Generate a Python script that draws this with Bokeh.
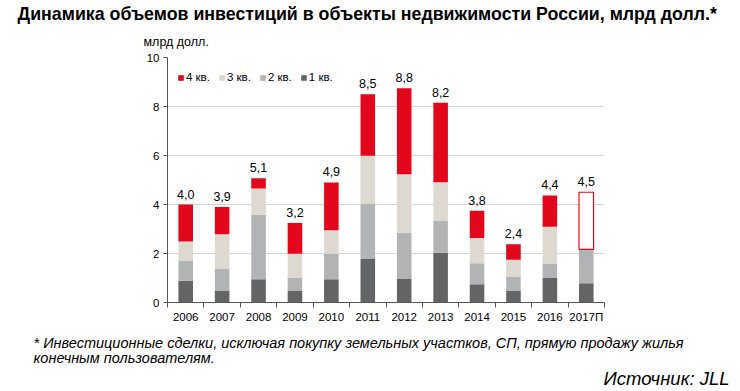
from bokeh.plotting import figure
from bokeh.models import (ColumnDataSource, Range1d, FixedTicker, Legend,
                          LegendItem, Title)
from bokeh.core.properties import value
from bokeh.embed import file_html
from bokeh.resources import INLINE

# ---- data ----
years = ["2006", "2007", "2008", "2009", "2010", "2011", "2012", "2013",
         "2014", "2015", "2016", "2017П"]
q1 = [0.89, 0.49, 0.95, 0.49, 0.95, 1.80, 0.98, 2.03, 0.75, 0.49, 1.02, 0.79]
q2 = [0.82, 0.88, 2.63, 0.53, 1.04, 2.22, 1.87, 1.30, 0.85, 0.57, 0.57, 1.38]
q3 = [0.78, 1.42, 1.07, 0.97, 0.96, 1.97, 2.38, 1.58, 1.03, 0.69, 1.50, 0.00]
q4 = [1.51, 1.11, 0.42, 1.25, 1.95, 2.51, 3.51, 3.24, 1.11, 0.63, 1.28, 0.00]
q4_forecast = [0, 0, 0, 0, 0, 0, 0, 0, 0, 0, 0, 2.33]
total_labels = ["4,0", "3,9", "5,1", "3,2", "4,9", "8,5", "8,8", "8,2",
                "3,8", "2,4", "4,4", "4,5"]
quarter_names = ["1 кв.", "2 кв.", "3 кв.", "4 кв."]
y_ticks = [0, 2, 4, 6, 8, 10]

colors = ["#636466", "#b2b3b5", "#ddd9d0", "#e2071a"]
FONT = "Liberation Sans"

n = len(years)
xs = [i + 0.5 for i in range(n)]
base = [a + b + c for a, b, c in zip(q1, q2, q3)]
tops = [b + d + f for b, d, f in zip(base, q4, q4_forecast)]

src = ColumnDataSource(dict(x=xs, q1=q1, q2=q2, q3=q3, q4=q4,
                            top=tops, lab=total_labels))
fidx = [i for i in range(n) if q4_forecast[i] > 0]
fsrc = ColumnDataSource(dict(x=[xs[i] for i in fidx],
                             bottom=[base[i] for i in fidx],
                             top=[base[i] + q4_forecast[i] for i in fidx]))

W, H = 740, 391
FL, FR, FT, FB = 167, 604, 57, 302  # frame edges in canvas px

p = figure(width=W, height=H, x_range=Range1d(0, n), y_range=Range1d(0, 10),
           output_backend="svg", toolbar_location=None,
           min_border_left=FL, min_border_right=W - FR,
           min_border_top=FT, min_border_bottom=H - FB)
p.outline_line_color = None
p.background_fill_color = "white"
p.border_fill_color = "white"

rs = p.vbar_stack(["q1", "q2", "q3", "q4"], x="x", width=0.4, color=colors,
                  line_color=None, source=src)
p.vbar(x="x", bottom="bottom", top="top", width=0.4, fill_color="white",
       line_color="#e2071a", line_width=1.2, source=fsrc)

p.text(x="x", y="top", text="lab", source=src, text_align="center",
       text_baseline="bottom", y_offset=-6, text_font=value(FONT),
       text_font_size="12.5px", text_color="#000000")

# axes
p.xaxis.ticker = FixedTicker(ticks=xs, minor_ticks=list(range(n + 1)))
p.xaxis.major_label_overrides = {x: y for x, y in zip(xs, years)}
p.xaxis.major_tick_out = 0
p.xaxis.major_tick_in = 0
p.xaxis.minor_tick_out = 5
p.xaxis.minor_tick_in = 0
p.xaxis.minor_tick_line_color = "#555555"
p.xaxis.axis_line_color = "#555555"
p.xaxis.major_label_standoff = 3
p.xaxis.major_label_text_font = FONT
p.xaxis.major_label_text_font_size = "11.5px"
p.xaxis.major_label_text_color = "#000000"

p.yaxis.ticker = FixedTicker(ticks=y_ticks, minor_ticks=[])
p.yaxis.major_tick_out = 4
p.yaxis.major_tick_in = 0
p.yaxis.major_tick_line_color = "#555555"
p.yaxis.axis_line_color = "#555555"
p.yaxis.major_label_standoff = 4
p.yaxis.major_label_text_font = FONT
p.yaxis.major_label_text_font_size = "11.5px"
p.yaxis.major_label_text_color = "#000000"

p.xgrid.grid_line_color = None
p.ygrid.grid_line_color = "#d4d4d4"

# legend
items = [LegendItem(label=quarter_names[i], renderers=[rs[i]]) for i in (3, 2, 1, 0)]
leg = Legend(items=items, orientation="horizontal", location=(10, 219),
             glyph_width=7, glyph_height=7, label_height=12, label_standoff=2,
             spacing=8, padding=0, margin=0, border_line_color=None,
             background_fill_alpha=0, label_text_font=FONT,
             label_text_font_size="11.5px", label_text_color="#000000")
p.add_layout(leg, "center")

# texts above (first added is nearest the frame)
p.add_layout(Title(text="млрд долл.", align="left", offset=-24,
                   vertical_align="bottom", standoff=18, text_font=FONT,
                   text_font_size="12.5px", text_font_style="normal",
                   text_color="#000000"), "above")
p.add_layout(Title(text="Динамика объемов инвестиций в объекты недвижимости России, млрд долл.*",
                   align="left", offset=-150,
                   vertical_align="bottom", standoff=0, text_font=FONT,
                   text_font_size="17.8px", text_font_style="bold",
                   text_color="#000000"), "above")

# texts below (after the x axis)
p.add_layout(Title(text=" ", align="left", vertical_align="top", standoff=6,
                   text_font=FONT, text_font_size="1px"), "below")
p.add_layout(Title(text="* Инвестиционные сделки, исключая покупку земельных участков, СП, прямую продажу жилья\nконечным пользователям.",
                   align="left", offset=-134, vertical_align="top",
                   standoff=0, text_font=FONT, text_font_size="14.5px",
                   text_line_height=0.95,
                   text_font_style="italic", text_color="#000000"), "below")
p.add_layout(Title(text="Источник: JLL",
                   align="right", offset=-125, vertical_align="top",
                   standoff=0, text_font=FONT, text_font_size="18.5px",
                   text_font_style="italic", text_color="#000000"), "below")

open("out.html", "w").write(file_html(p, INLINE))
